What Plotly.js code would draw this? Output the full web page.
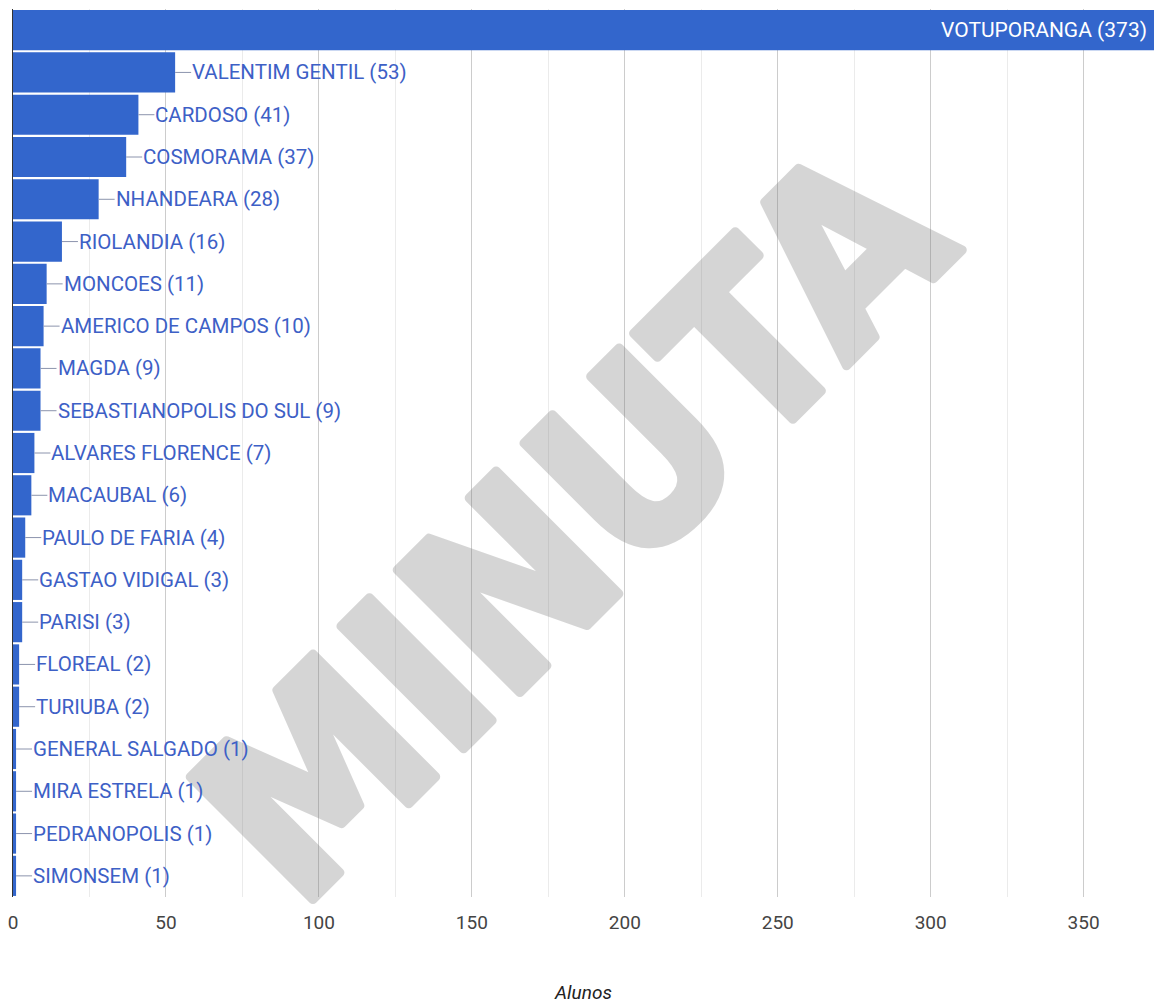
<!DOCTYPE html>
<html>
<head>
<meta charset="utf-8">
<script src="https://cdn.plot.ly/plotly-3.0.1.min.js"></script>
<style>
  html, body { margin: 0; padding: 0; background: #fff; }
  #chart { width: 1154px; height: 1004px; }
  g.annotation[data-index="0"] text.annotation-text {
    stroke: #7a7a7a; stroke-width: 9px; stroke-linejoin: round; stroke-linecap: round;
  }
</style>
</head>
<body>
<div id="chart"></div>
<script>
const categories = [
  "VOTUPORANGA", "VALENTIM GENTIL", "CARDOSO", "COSMORAMA", "NHANDEARA",
  "RIOLANDIA", "MONCOES", "AMERICO DE CAMPOS", "MAGDA", "SEBASTIANOPOLIS DO SUL",
  "ALVARES FLORENCE", "MACAUBAL", "PAULO DE FARIA", "GASTAO VIDIGAL", "PARISI",
  "FLOREAL", "TURIUBA", "GENERAL SALGADO", "MIRA ESTRELA", "PEDRANOPOLIS", "SIMONSEM"
];
const alunos = [373, 53, 41, 37, 28, 16, 11, 10, 9, 9, 7, 6, 4, 3, 3, 2, 2, 1, 1, 1, 1];
const xTickValues = [0, 50, 100, 150, 200, 250, 300, 350];
const xTitle = "Alunos";
const watermark = "MINUTA";

const barColor = "#3366cc";
const labelFont = "Roboto, Arial, sans-serif";

const labelText = categories.map((c, i) => c + " (" + alunos[i] + ")");
const maxVal = Math.max(...alunos);

const annotations = [{
  text: watermark, xref: "paper", yref: "paper", x: 0.49, y: 0.421,
  showarrow: false, textangle: -45, opacity: 0.31,
  font: { family: "Liberation Sans Narrow, DejaVu Sans Condensed, Liberation Sans, sans-serif",
          size: 238, weight: 700, color: "#7a7a7a" }
}];

categories.forEach((c, i) => {
  if (alunos[i] === maxVal) {
    annotations.push({
      x: alunos[i], y: c, xref: "x", yref: "y", text: labelText[i],
      showarrow: false, xanchor: "right", xshift: -5,
      font: { family: labelFont, size: 21, color: "#ffffff" }
    });
  } else {
    annotations.push({
      x: alunos[i], y: c, xref: "x", yref: "y", text: labelText[i],
      showarrow: true, arrowhead: 0, arrowwidth: 1, arrowcolor: "#8c94ad",
      ax: 16, ay: 0, axref: "pixel", ayref: "pixel", standoff: 0, startstandoff: 0,
      xanchor: "left", yanchor: "middle", borderpad: 0,
      font: { family: labelFont, size: 20.5, color: "#3d60c6" }
    });
  }
});

const data = [{
  type: "bar", orientation: "h",
  x: alunos, y: categories,
  marker: { color: barColor },
  hoverinfo: "x+y"
}];

const layout = {
  width: 1154, height: 1004,
  margin: { l: 13, r: 0, t: 9, b: 107, pad: 0 },
  paper_bgcolor: "#ffffff", plot_bgcolor: "#ffffff",
  showlegend: false,
  bargap: 0.05,
  xaxis: {
    range: [0, maxVal], fixedrange: true,
    tickvals: xTickValues, ticktext: xTickValues.map(String),
    showgrid: true, gridcolor: "#cccccc", gridwidth: 1,
    minor: { dtick: 25, tick0: 0, showgrid: true, gridcolor: "#ebebeb", gridwidth: 1 },
    zeroline: false, showline: false, ticks: "",
    ticklabelstandoff: 12,
    tickfont: { family: labelFont, size: 19, color: "#444444" },
    title: { text: xTitle, standoff: 58,
             font: { family: labelFont, size: 19, color: "#222222", style: "italic" } },
    automargin: false
  },
  yaxis: {
    type: "category", autorange: "reversed", fixedrange: true,
    showticklabels: false, showgrid: false, zeroline: false,
    showline: true, linecolor: "#333333", linewidth: 1, ticks: "",
    automargin: false
  },
  annotations: annotations
};

Plotly.newPlot("chart", data, layout, { displayModeBar: false, staticPlot: true });
</script>
</body>
</html>
